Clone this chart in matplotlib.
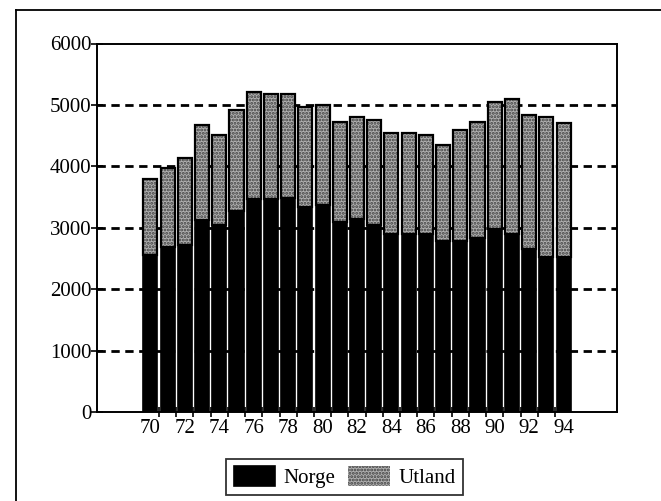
import matplotlib
matplotlib.use("Agg")
import matplotlib.pyplot as plt
from matplotlib.lines import Line2D
import numpy as np

years = ["70", "71", "72", "73", "74", "75", "76", "77", "78", "79", "80", "81", "82",
         "83", "84", "85", "86", "87", "88", "89", "90", "91", "92", "93", "94"]
norge = [2550, 2680, 2720, 3130, 3050, 3270, 3460, 3460, 3490, 3340, 3370, 3100, 3140,
         3050, 2900, 2900, 2900, 2780, 2780, 2830, 2980, 2900, 2650, 2520, 2520]
total = [3800, 3980, 4130, 4680, 4510, 4920, 5210, 5170, 5170, 4970, 5000, 4720, 4800,
         4760, 4550, 4550, 4510, 4350, 4590, 4720, 5040, 5090, 4840, 4800, 4710]
utland = [t - n for t, n in zip(total, norge)]
yticks = [0, 1000, 2000, 3000, 4000, 5000, 6000]

plt.rcParams['font.family'] = ['Liberation Serif', 'DejaVu Serif']
plt.rcParams['hatch.linewidth'] = 1.4

fig = plt.figure(figsize=(6.61, 5.01), dpi=100)
ax = fig.add_axes([97/661, 1-412/501, (617-97)/661, (412-43.5)/501])

x = np.arange(len(years))
w = 0.82
b1 = ax.bar(x, norge, w, color='black', edgecolor='black', linewidth=1.2, zorder=3, label='Norge')
b2 = ax.bar(x, utland, w, bottom=norge, color='#b0b0b0', edgecolor='#404040',
            hatch='.....', linewidth=0, zorder=3, label='Utland')
ax.bar(x, utland, w, bottom=norge, fill=False, edgecolor='black', linewidth=1.6, zorder=4)

ax.set_xlim(-3.1, 27.1)
ax.set_ylim(0, 6000)
ax.set_yticks(yticks)
ax.set_yticklabels([str(v) for v in yticks])
ax.set_xticks(x[::2])
ax.set_xticklabels(years[::2])
ax.set_xticks(x[:-1] + 0.5, minor=True)
ax.tick_params(axis='x', which='major', length=0, labelsize=15, pad=5)
ax.tick_params(axis='x', which='minor', direction='inout', length=7, width=1.2)
ax.tick_params(axis='y', direction='inout', length=8, width=1.2, labelsize=15, pad=0)

for v in yticks[1:-1]:
    ax.axhline(v, color='black', linestyle=(0, (3, 2)), linewidth=2.0, zorder=1)

for s in ax.spines.values():
    s.set_linewidth(1.4)

leg = ax.legend(handles=[b1, b2], loc='center', bbox_to_anchor=(344.5/661, 1-477/501),
                bbox_transform=fig.transFigure, ncol=2, fontsize=15, frameon=True,
                fancybox=False, edgecolor='black', handlelength=2.0, handleheight=1.1,
                columnspacing=0.6, handletextpad=0.4, borderpad=0.35)
leg.get_frame().set_linewidth(1.3)

fig.add_artist(Line2D([16/661, 16/661], [0, 1-10/501], transform=fig.transFigure,
                      color='black', linewidth=1.3))
fig.add_artist(Line2D([16/661, 1], [1-10/501, 1-10/501], transform=fig.transFigure,
                      color='black', linewidth=1.3))

fig.savefig('out.png', dpi=100)
